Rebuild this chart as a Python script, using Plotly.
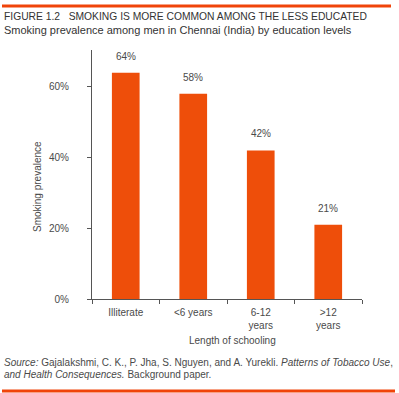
import plotly.graph_objects as go

categories = ["Illiterate", "<6 years", "6-12<br>years", ">12<br>years"]
prevalence = [64, 58, 42, 21]
value_labels = ["64%", "58%", "42%", "21%"]
y_ticks = [0, 20, 40, 60]
y_tick_labels = ["0%", "20%", "40%", "60%"]

W, H = 399, 393
L, R, T, B = 92, 37, 50, 94
PW = W - L - R
PH = H - T - B

def px(x):
    return (x - L) / PW

def py(y):
    return (H - B - y) / PH

FONT = "Liberation Sans, Arial, sans-serif"
GRAY = "#4a4a4a"
BAR = "#EE4E0A"
RED = "#F0440A"

fig = go.Figure()
fig.add_trace(go.Bar(
    x=categories, y=prevalence,
    marker=dict(color=BAR, line=dict(width=0)),
    width=0.41,
    hoverinfo="skip",
))

for c, v, t in zip(categories, prevalence, value_labels):
    fig.add_annotation(x=c, y=v, xref="x", yref="y", text=t, showarrow=False,
                       yanchor="bottom", yshift=9,
                       font=dict(family=FONT, size=10, color=GRAY))

fig.update_layout(
    template="none",
    width=W, height=H,
    margin=dict(l=L, r=R, t=T, b=B, pad=0, autoexpand=False),
    paper_bgcolor="white", plot_bgcolor="white",
    showlegend=False,
    font=dict(family=FONT, size=10, color=GRAY),
)
fig.update_xaxes(
    type="category", automargin=False,
    showline=True, linecolor="#555", linewidth=1,
    ticks="outside", tickson="boundaries", ticklen=4, tickcolor="#555",
    ticklabelstandoff=4,
    showgrid=False, zeroline=False,
    tickfont=dict(family=FONT, size=10, color=GRAY),
)
fig.update_yaxes(
    range=[0, 70.4], automargin=False,
    tickmode="array", tickvals=y_ticks, ticktext=y_tick_labels,
    showline=True, linecolor="#555", linewidth=1,
    ticks="outside", ticklen=4, tickcolor="#555",
    ticklabelstandoff=16,
    showgrid=False, zeroline=False,
    tickfont=dict(family=FONT, size=10, color=GRAY),
)

def rule(x0, x1, y):
    fig.add_shape(type="line", xref="paper", yref="paper", x0=px(x0), x1=px(x1),
                  y0=py(y), y1=py(y), line=dict(color=RED, width=3))

rule(2, 391, 6)
rule(2, 395, 391)

def ann(text, x, y, size=10, xanchor="left", angle=0, color=GRAY):
    fig.add_annotation(text=text, x=px(x), y=py(y), xref="paper", yref="paper",
                       xanchor=xanchor, yanchor="middle", showarrow=False,
                       textangle=angle,
                       font=dict(family=FONT, size=size, color=color))

ann("FIGURE 1.2&nbsp;&nbsp;&nbsp;SMOKING IS MORE COMMON AMONG THE LESS EDUCATED", 2, 17, size=10.3, color="#333")
ann("Smoking prevalence among men in Chennai (India) by education levels", 2, 30, size=11, color="#333")
ann("Length of schooling", 232, 341, size=10, xanchor="center")
ann("Smoking prevalence", 37, 187, size=10, xanchor="center", angle=-90)
ann("<i>Source:</i> Gajalakshmi, C. K., P. Jha, S. Nguyen, and A. Yurekli. <i>Patterns of Tobacco Use</i>,", 2, 362, size=10)
ann("<i>and Health Consequences.</i> Background paper.", 2, 374, size=10)

fig.write_html("out.html", config={"displayModeBar": False},
               post_script="document.body.style.margin='0';document.body.style.overflow='hidden';")
